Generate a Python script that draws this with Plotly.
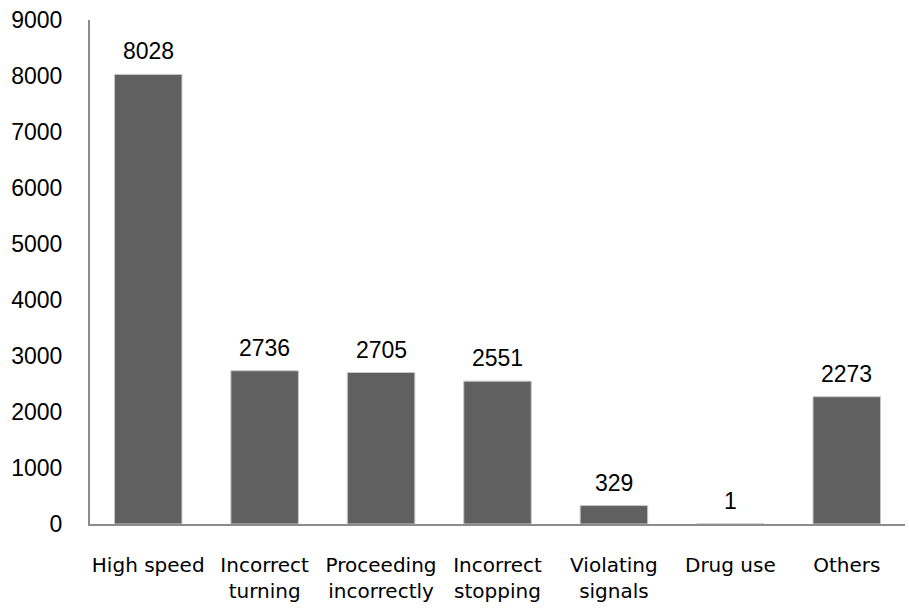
import plotly.graph_objects as go

categories = ["High speed", "Incorrect<br>turning", "Proceeding<br>incorrectly",
              "Incorrect<br>stopping", "Violating<br>signals", "Drug use", "Others"]
counts = [8028, 2736, 2705, 2551, 329, 1, 2273]
y_ticks = [0, 1000, 2000, 3000, 4000, 5000, 6000, 7000, 8000, 9000]

fig = go.Figure()
fig.add_trace(go.Bar(
    x=categories, y=counts,
    marker=dict(color="#606060", line=dict(color="#c8c8c8", width=1)),
    hoverinfo="x+y",
))

# value labels above each bar
for c, v in zip(categories, counts):
    fig.add_annotation(x=c, y=v, text=str(v), showarrow=False,
                       yanchor="bottom", yshift=8,
                       font=dict(family="Liberation Sans, Arial", size=23, color="#000000"))

fig.update_layout(
    width=909, height=609,
    margin=dict(l=90, r=4, t=20, b=85),
    paper_bgcolor="white", plot_bgcolor="white",
    bargap=0.42,
    showlegend=False,
    xaxis=dict(
        showline=True, linecolor="#8c8c8c", linewidth=2,
        ticks="", showgrid=False, zeroline=False,
        tickfont=dict(family="DejaVu Sans", size=20, color="#000000"),
        ticklabelstandoff=22,
    ),
    yaxis=dict(
        range=[0, 9000], tickvals=y_ticks,
        showline=True, linecolor="#8c8c8c", linewidth=2,
        ticks="", showgrid=False, zeroline=False,
        tickfont=dict(family="Liberation Sans, Arial", size=23, color="#000000"),
        ticklabelstandoff=21,
    ),
)

fig.write_html("out.html")
